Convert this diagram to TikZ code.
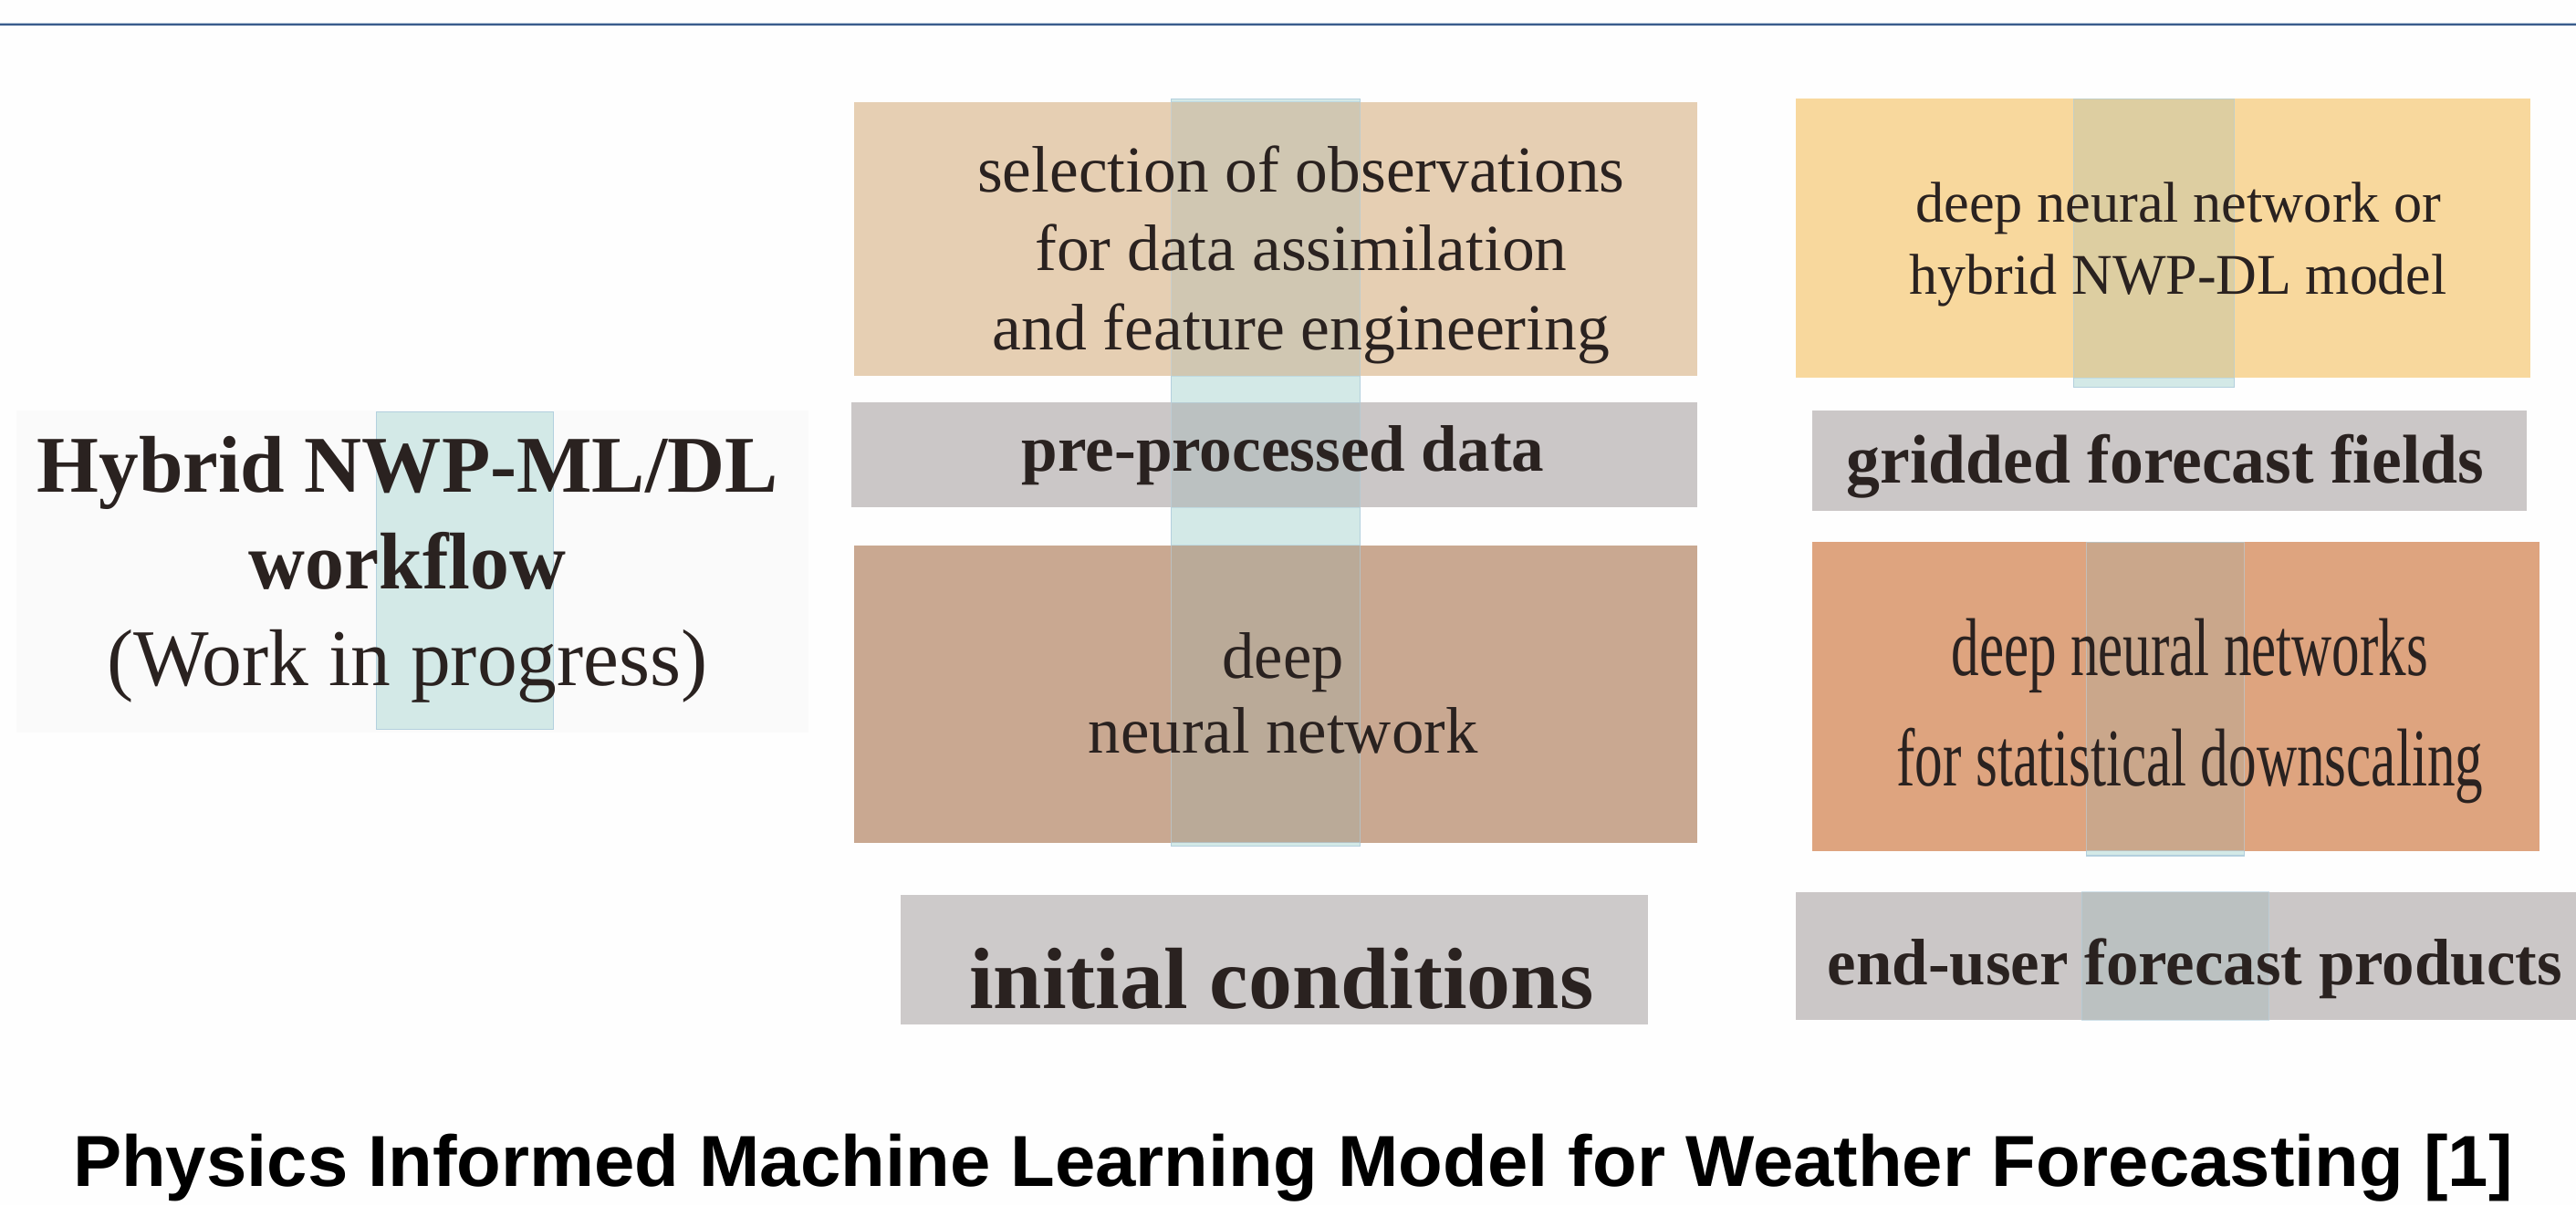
\documentclass[tikz,border=0pt]{standalone}
\usepackage{fontspec}
\setmainfont{Liberation Serif}
\newfontfamily\capfont{Liberation Sans}
\usepackage{graphicx}
\usetikzlibrary{fit}
\newlength\myu
\setlength\myu{0.5mm}
\newcommand\fitw[2]{\resizebox{#1\myu}{\height}{#2}}
\definecolor{bgc}{HTML}{FEFEFE}
\definecolor{rulec}{HTML}{3A5C8C}
\definecolor{rulelight}{HTML}{A9BCD3}
\definecolor{cA}{HTML}{E6CFB3}
\definecolor{cGray}{HTML}{CBC7C7}
\definecolor{cC}{HTML}{C9A891}
\definecolor{cD}{HTML}{CDCACA}
\definecolor{cE}{HTML}{F8D89D}
\definecolor{cG}{HTML}{DEA47F}
\definecolor{stripc}{HTML}{D3E9E7}
\definecolor{stripedge}{HTML}{B3D0DE}
\definecolor{veilc}{HTML}{8FB3B0}
\definecolor{textc}{HTML}{2A2220}
\definecolor{titlebox}{HTML}{FAFAFA}
\begin{document}
\begin{tikzpicture}[x=0.5mm, y=-0.5mm,
  box/.style={inner sep=0pt, outer sep=0pt, draw=none},
  strip/.style={fill=stripc, draw=stripedge, line width=0.8pt, inner sep=0pt, outer sep=0pt},
  veil/.style={fill=veilc, fill opacity=0.25, draw=stripedge, draw opacity=0.6, line width=0.8pt, inner sep=0pt, outer sep=0pt},
  txt/.style={inner sep=0pt, outer sep=0pt, align=center, text=textc}]
\useasboundingbox (0,0) rectangle (1568,734);
\fill[bgc] (0,0) rectangle (1568,734);
% top rule
\coordinate (rl) at (0,15);
\coordinate (rr) at (1568,15);
\draw[rulelight, line width=1.2pt] ([yshift=1.2pt]rl) -- ([yshift=1.2pt]rr);
\draw[rulec, line width=2pt] (rl) -- (rr);
% left title panel
\node[box, fill=titlebox, fit={(10,250) (492,446)}] (T) {};
\node[strip, fit={(229,251) (337,444)}] (sT) {};
% strips under boxes
\node[strip, fit={(713,60) (828,515)}] (s1) {};
\node[strip, fit={(1262,60) (1360,236)}] (s2) {};
\node[strip, fit={(1270,330) (1366,521)}] (s3) {};
% boxes
\node[box, fill=cA, fit={(520,62) (1033,229)}] (A) {};
\node[box, fill=cGray, fit={(518,245) (1033,309)}] (B) {};
\node[box, fill=cC, fit={(520,332) (1033,513)}] (C) {};
\node[box, fill=cD, fit={(548,545) (1003,624)}] (D) {};
\node[box, fill=cE, fit={(1093,60) (1540,230)}] (E) {};
\node[box, fill=cGray, fit={(1103,250) (1538,311)}] (F) {};
\node[box, fill=cG, fit={(1103,330) (1546,518)}] (G) {};
\node[box, fill=cGray, fit={(1093,543) (1568,621)}] (H) {};
% veils of the strips over the boxes
\node[veil, fit={(713,62) (828,229)}] (vA) {};
\node[veil, fit={(713,245) (828,309)}] (vB) {};
\node[veil, fit={(713,332) (828,513)}] (vC) {};
\node[veil, fit={(1262,60) (1360,230)}] (vE) {};
\node[veil, fit={(1270,330) (1366,518)}] (vG) {};
\node[veil, fit={(1267,543) (1381,621)}] (vH) {};
% texts
\node[txt, font=\bfseries\fontsize{69.7pt}{83.9pt}\selectfont] (tT) at (248,347)
  {\fitw{451}{Hybrid NWP-ML/DL}\\ \fitw{193}{workflow}\\ \mdseries\fitw{366}{(Work in progress)}};
\node[txt, font=\fontsize{56.9pt}{68.3pt}\selectfont] (tA) at (792,155)
  {\fitw{394}{selection of observations}\\ \fitw{324}{for data assimilation}\\ \fitw{376}{and feature engineering}};
\node[txt, font=\bfseries\fontsize{56.9pt}{68.3pt}\selectfont] (tB) at (781,277)
  {\fitw{318}{pre-processed data}};
\node[txt, font=\fontsize{56.9pt}{65.4pt}\selectfont] (tC) at (781,422)
  {\fitw{74}{deep}\\ \fitw{237}{neural network}};
\node[txt, font=\bfseries\fontsize{75.4pt}{90pt}\selectfont] (tD) at (780,596)
  {\fitw{380}{initial conditions}};
\node[txt, font=\fontsize{49.8pt}{62.6pt}\selectfont] (tE) at (1326,149)
  {\fitw{320}{deep neural network or}\\ \fitw{327}{hybrid NWP-DL model}};
\node[txt, font=\bfseries\fontsize{59.8pt}{70pt}\selectfont] (tF) at (1318,284)
  {\fitw{388}{gridded forecast fields}};
\node[txt, font=\fontsize{71.1pt}{95.3pt}\selectfont] (tG) at (1333,433)
  {\fitw{290}{deep neural networks}\\ \fitw{357}{for statistical downscaling}};
\node[txt, font=\bfseries\fontsize{56.9pt}{68pt}\selectfont] (tH) at (1336,590)
  {\fitw{447}{end-user forecast products}};
% caption
\node[txt, text=black, font=\capfont\bfseries\fontsize{62.6pt}{72pt}\selectfont] (cap) at (787,711)
  {\fitw{1485}{Physics Informed Machine Learning Model for Weather Forecasting [1]}};
\end{tikzpicture}
\end{document}
